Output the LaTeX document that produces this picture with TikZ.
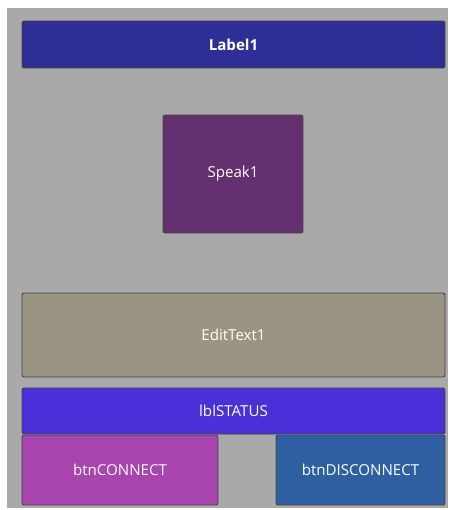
\documentclass[tikz,border=0pt]{standalone}
\usepackage{fontspec}
\setmainfont{Open Sans}
\usetikzlibrary{positioning}
\definecolor{screengray}{HTML}{A9A9A9}
\definecolor{labelblue}{HTML}{2E2E96}
\definecolor{speakpurple}{HTML}{65306F}
\definecolor{edittan}{HTML}{9A9482}
\definecolor{statusblue}{HTML}{4A30D8}
\definecolor{connectpink}{HTML}{A844AD}
\definecolor{disconblue}{HTML}{2E5FA0}
\tikzset{
  widget/.style={draw=black!75, line width=0.5pt, rounded corners=1.2pt,
    text=white, font=\fontsize{8.6}{10}\selectfont, inner sep=0pt}
}

\begin{document}
\begin{tikzpicture}[x=0.02cm, y=-0.02cm]
  \def\Xm{233.5};
  \def\Ybtn{470};
        \useasboundingbox (0,0) rectangle (451,510);
        \fill[white] (0,0) rectangle (451,510);
        \fill[screengray] (7,8) rectangle (448,508);

        \node[widget, fill=labelblue, minimum width=8.46cm, minimum height=0.94cm]
          (label) at (\Xm, 44.5) {\bfseries Label1};
        \node[widget, fill=speakpurple, minimum width=2.8cm, minimum height=2.36cm]
          (speak) at (233, 174) {Speak1};
        \node[widget, fill=edittan, minimum width=8.46cm, minimum height=1.68cm]
          (edit) at (\Xm, 335) {EditText1};
        \node[widget, fill=statusblue, minimum width=8.46cm, minimum height=0.92cm]
          (status) at (\Xm, 411) {lblSTATUS};
        \node[widget, fill=connectpink, minimum width=3.92cm, minimum height=1.4cm]
          (connect) at (120, \Ybtn) {btnCONNECT};
        \node[widget, fill=disconblue, minimum width=3.38cm, minimum height=1.4cm]
          (disconnect) at (360.5, \Ybtn) {btnDISCONNECT};

\end{tikzpicture}
\end{document}
